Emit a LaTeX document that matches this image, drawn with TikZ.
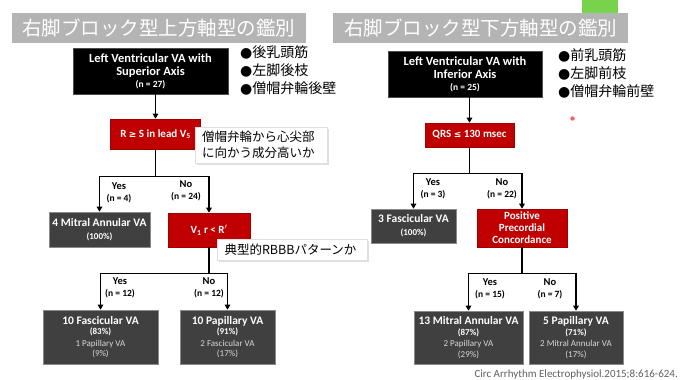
\documentclass[tikz,border=0pt]{standalone}
\usepackage{fontspec}
\setmainfont{Carlito}
\newfontfamily\jp{Noto Sans CJK JP}
\newfontfamily\sym{DejaVu Sans}
\usetikzlibrary{arrows.meta,shadows,fadings}
\definecolor{slgray}{HTML}{B4B4B4}
\definecolor{boxred}{HTML}{C00000}
\definecolor{boxredline}{HTML}{A00000}
\definecolor{boxgray}{HTML}{404040}
\definecolor{boxgrayline}{HTML}{8A8A8A}
\definecolor{subtext}{HTML}{D8D8D8}
\definecolor{citegray}{HTML}{606060}
\tikzset{
  titlebox/.style={fill=slgray, text=white, font=\jp\fontsize{19.5}{22}\selectfont, inner sep=0pt, minimum height=30pt, anchor=center},
  blackbox/.style={fill=black, draw=black!70, text=white, font=\bfseries\fontsize{12.5}{13.5}\selectfont, align=center, inner sep=1pt},
  redbox/.style={fill=boxred, draw=boxredline, line width=0.6pt, text=white, font=\bfseries\fontsize{11}{12}\selectfont, align=center, inner sep=1pt},
  graybox/.style={fill=boxgray, draw=boxgrayline, line width=0.6pt, text=white, font=\bfseries\fontsize{11.5}{10.5}\selectfont, align=center, inner sep=1pt},
  callout/.style={fill=white, draw=white!88!black, line width=0.4pt, drop shadow={shadow xshift=1.5pt, shadow yshift=-1.5pt, opacity=0.25}, font=\jp\fontsize{12.5}{15.5}\selectfont, align=left, inner sep=0pt},
  bullets/.style={font=\jp\fontsize{14}{18}\selectfont, align=left, anchor=north west, inner sep=0pt},
  yn/.style={font=\bfseries\fontsize{10.5}{12}\selectfont, align=center, inner sep=0pt},
  arr/.style={line width=1.3pt, -{Triangle[length=5pt,width=5.5pt]}},
}
\newcommand{\nsub}[1]{{\fontsize{9.5}{10}\selectfont #1}}
\newcommand{\pct}[1]{{\fontsize{9}{10}\selectfont #1}}
\newcommand{\minor}[1]{{\normalfont\fontsize{9}{10}\selectfont\color{subtext}#1}}
\begin{document}
\begin{tikzpicture}[x=1pt,y=-1pt]
\useasboundingbox (0,0) rectangle (680,380);
\fill[white] (0,0) rectangle (680,380);
% decoration square and pointer dot
\fill[green!50!olive!70] (582,0) rectangle (618,15);
\fill[red!80, opacity=0.8] (572.5,118.5) circle (2.2pt);
% titles
\node[titlebox, minimum width=294pt] (t1) at (159,28) {右脚ブロック型上方軸型の鑑別};
\node[titlebox, minimum width=295pt] (t2) at (480.5,28) {右脚ブロック型下方軸型の鑑別};

% ---------- left tree ----------
\node[blackbox, minimum width=155pt, minimum height=46pt] (b1) at (150.5,71) {Left Ventricular VA with\\Superior Axis\\[-2pt]\nsub{(n = 27)}};
\node[bullets] (l1) at (240,45) {{\sym●}後乳頭筋\\{\sym●}左脚後枝\\{\sym●}僧帽弁輪後壁};
\node[redbox, minimum width=90pt, minimum height=30pt] (r1) at (155.5,134) {R {\sym\fontsize{9}{10}\selectfont ≥} S in lead V\textsubscript{5}};
\node[callout, minimum width=132pt, minimum height=36pt, text width=118pt] (c1) at (261,145) {僧帽弁輪から心尖部\\に向かう成分高いか};
\node[graybox, minimum width=101pt, minimum height=35pt, font=\bfseries\fontsize{11.5}{13}\selectfont] (g1) at (99.5,229.5) {4 Mitral Annular VA\\\pct{(100\%)}};
\node[redbox, minimum width=82pt, minimum height=34pt] (r2) at (209,230) {V\textsubscript{1} r < R$'$};
\node[callout, minimum width=150pt, minimum height=21pt, text width=136pt] (c2) at (292.5,250) {典型的RBBBパターンか};
\node[graybox, minimum width=115pt, minimum height=54pt] (g2) at (100.5,337) {10 Fascicular VA\\\pct{(83\%)}\\[1pt]\minor{1 Papillary VA}\\\minor{(9\%)}};
\node[graybox, minimum width=95pt, minimum height=54pt] (g3) at (227.5,337) {10 Papillary VA\\\pct{(91\%)}\\[1pt]\minor{2 Fascicular VA}\\\minor{(17\%)}};
\draw[arr] (b1.south -| r1.north) -- (r1.north);
\draw[arr] (r1.south) -- ++(0,27) -| (g1.north);
\draw[arr] (r1.south) -- ++(0,27) -| (r2.north);
\draw[arr] (r2.south) -- ++(0,26) -| (g2.north);
\draw[arr] (r2.south) -- ++(0,26) -| (g3.north);
\node[yn] (y1) at (119,193) {Yes\\\nsub{(n = 4)}};
\node[yn] (n1) at (186,191) {No\\\nsub{(n = 24)}};
\node[yn] (y2) at (120,288) {Yes\\\nsub{(n = 12)}};
\node[yn] (n2) at (209,288) {No\\\nsub{(n = 12)}};

% ---------- right tree ----------
\node[blackbox, minimum width=154pt, minimum height=46pt] (b2) at (465,74) {Left Ventricular VA with\\Inferior Axis\\[-2pt]\nsub{(n = 25)}};
\node[bullets] (l2) at (558,48) {{\sym●}前乳頭筋\\{\sym●}左脚前枝\\{\sym●}僧帽弁輪前壁};
\node[redbox, minimum width=89pt, minimum height=24pt] (r3) at (469.5,135) {QRS {\sym\fontsize{9}{10}\selectfont ≤} 130 msec};
\node[graybox, minimum width=85pt, minimum height=34pt, font=\bfseries\fontsize{11.5}{13}\selectfont] (g4) at (413.5,226) {3 Fascicular VA\\\pct{(100\%)}};
\node[redbox, minimum width=90pt, minimum height=38pt] (r4) at (522,228) {Positive\\Precordial\\Concordance};
\node[graybox, minimum width=109pt, minimum height=53pt] (g5) at (468.5,337.5) {13 Mitral Annular VA\\\pct{(87\%)}\\[1pt]\minor{2 Papillary VA}\\\minor{(29\%)}};
\node[graybox, minimum width=94pt, minimum height=53pt] (g6) at (576,337.5) {5 Papillary VA\\\pct{(71\%)}\\[1pt]\minor{2 Mitral Annular VA}\\\minor{(17\%)}};
\draw[arr] (b2.south -| r3.north) -- (r3.north);
\draw[arr] (r3.south) -- ++(0,26) -| (g4.north);
\draw[arr] (r3.south) -- ++(0,26) -| (r4.north);
\draw[arr] (r4.south) -- ++(0,26) -| (g5.north);
\draw[arr] (r4.south) -- ++(0,26) -| (g6.north);
\node[yn] (y3) at (433,189) {Yes\\\nsub{(n = 3)}};
\node[yn] (n3) at (502,189) {No\\\nsub{(n = 22)}};
\node[yn] (y4) at (490,289) {Yes\\\nsub{(n = 15)}};
\node[yn] (n4) at (550,289) {No\\\nsub{(n = 7)}};

\node[font=\fontsize{11}{13}\selectfont, text=citegray, anchor=east, inner sep=0pt] (cite) at (678,375) {Circ Arrhythm Electrophysiol.2015;8:616-624.};
\end{tikzpicture}
\end{document}
